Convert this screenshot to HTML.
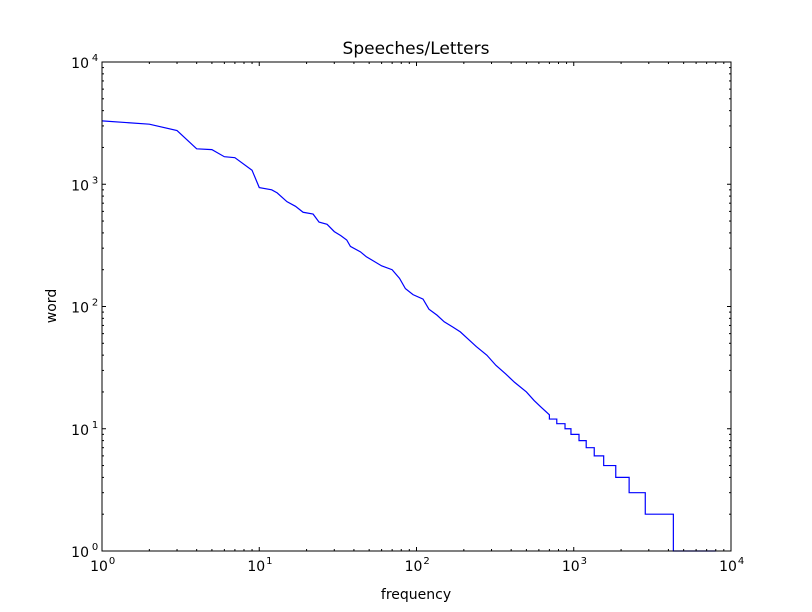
<!DOCTYPE html>
<html><head><meta charset="utf-8"><style>
html,body{margin:0;padding:0;background:#fff;}
svg{display:block;font-family:"DejaVu Sans","Liberation Sans",sans-serif;}
</style></head><body>
<svg id="chart" width="812" height="612" viewBox="0 0 812 612" xmlns="http://www.w3.org/2000/svg">
<rect width="812" height="612" fill="#fff"/>
<text x="416" y="54" font-size="17" text-anchor="middle">Speeches/Letters</text>
<text x="416" y="599" font-size="14" text-anchor="middle">frequency</text>
<text x="0" y="0" font-size="14" text-anchor="middle" transform="translate(56,306) rotate(-90)">word</text>
<g id="plot"></g>
</svg>
<script>
const freqValues = [1,2,3,4,5,6,7,9,10,12,13,15,17,19,22,24,27,30,33,36,38,44,48,52,60,70,78,85,95,110,120,135,150,170,190,210,240,280,320,370,420,500,560,620,700,700,780,780,880,880,960,960,1080,1080,1200,1200,1350,1350,1550,1550,1850,1850,2250,2250,2850,2850,4300,4300,8000];
const wordValues = [3300,3100,2750,1950,1920,1680,1650,1300,940,900,850,720,660,590,570,490,470,410,380,350,310,280,255,240,215,200,170,140,125,115,95,85,75,68,62,55,47,40,33,28,24,20,17,15,13,12,12,11,11,10,10,9,9,8,8,7,7,6,6,5,5,4,4,3,3,2,2,1,1];
const xTickExps = [0,1,2,3,4];
const yTickExps = [0,1,2,3,4];

const L=102,R=731,T=62,B=551;
const sx=v=>L+(R-L)*Math.log10(v)/4;
const sy=v=>B-(B-T)*Math.log10(v)/4;
const NS="http://www.w3.org/2000/svg";
const g=document.getElementById('plot');
function mk(tag,attrs){const e=document.createElementNS(NS,tag);for(const k in attrs)e.setAttribute(k,attrs[k]);g.appendChild(e);return e;}

const pts=freqValues.map((x,i)=>sx(x).toFixed(2)+','+sy(wordValues[i]).toFixed(2)).join(' ');
const line=mk('polyline',{points:pts,fill:'none',stroke:'#0000ff','stroke-width':1.2});



const frame=mk('rect',{x:L,y:T,width:R-L,height:B-T,fill:'none',stroke:'#000','stroke-width':1});



for(let e=0;e<4;e++){
  for(let m=2;m<=9;m++){
    const v=m*Math.pow(10,e);
    const x=sx(v), y=sy(v);
    mk('line',{x1:x,x2:x,y1:B,y2:B-2,stroke:'#000'});
    mk('line',{x1:x,x2:x,y1:T,y2:T+2,stroke:'#000'});
    mk('line',{x1:L,x2:L+2,y1:y,y2:y,stroke:'#000'});
    mk('line',{x1:R,x2:R-2,y1:y,y2:y,stroke:'#000'});
  }
}
xTickExps.forEach(e=>{
  const x=sx(Math.pow(10,e));
  mk('line',{x1:x,x2:x,y1:B,y2:B-4,stroke:'#000'});
  mk('line',{x1:x,x2:x,y1:T,y2:T+4,stroke:'#000'});
  const t=mk('text',{x:x-3,y:B+20,'font-size':14,'text-anchor':'middle'});
  
  
  t.textContent='10';
  const s=mk('text',{x:x+10,y:B+13,'font-size':10,'text-anchor':'middle'});
  
  
  s.textContent=String(e);
});
yTickExps.forEach(e=>{
  const y=sy(Math.pow(10,e));
  mk('line',{x1:L,x2:L+4,y1:y,y2:y,stroke:'#000'});
  mk('line',{x1:R,x2:R-4,y1:y,y2:y,stroke:'#000'});
  const t=mk('text',{x:L-13,y:y+6,'font-size':14,'text-anchor':'end'});
  
  
  t.textContent='10';
  const s=mk('text',{x:L-7,y:y-1,'font-size':10,'text-anchor':'middle'});
  
  
  s.textContent=String(e);
});
</script>
</body></html>
